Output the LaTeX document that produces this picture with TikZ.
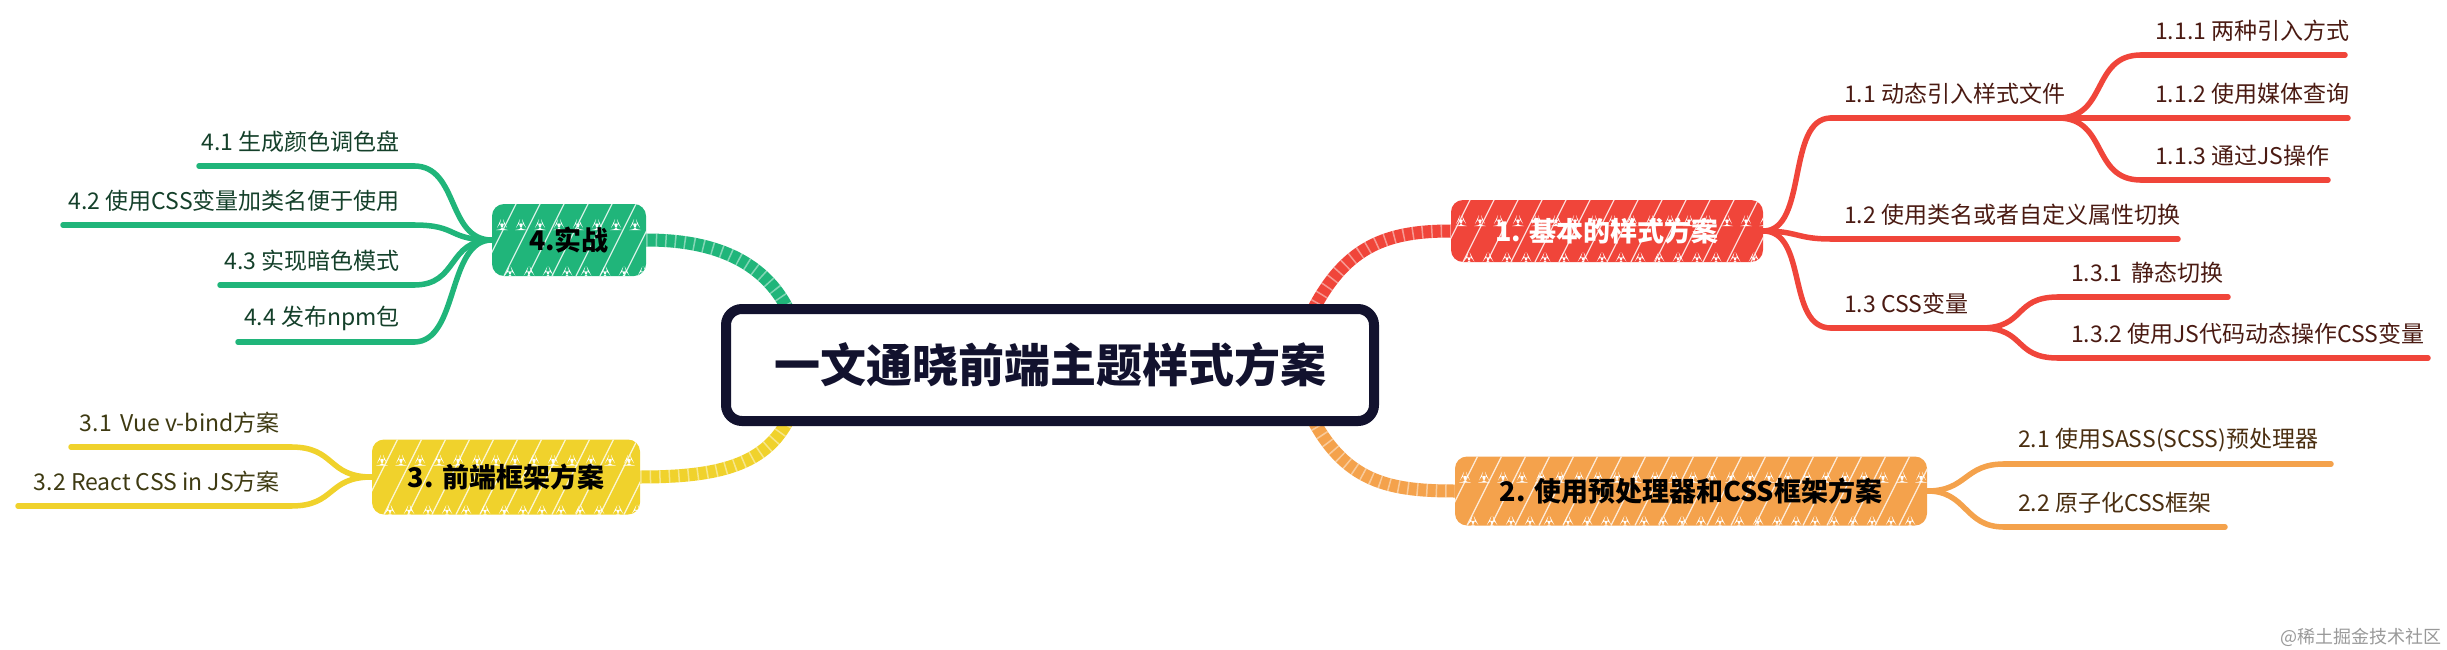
\documentclass[tikz,border=0pt]{standalone}
\usepackage{fontspec}
\setmainfont{Noto Sans CJK SC}
\usetikzlibrary{backgrounds}
\definecolor{cg}{HTML}{20B57A}
\definecolor{cr}{HTML}{F0453A}
\definecolor{co}{HTML}{F4A24C}
\definecolor{cy}{HTML}{F0D22C}
\definecolor{cn}{HTML}{12122E}
\definecolor{tr}{HTML}{4A1A12}
\definecolor{to}{HTML}{4A2E10}
\definecolor{ty}{HTML}{3E3A12}
\definecolor{tg}{HTML}{14402A}
\tikzset{
  hatch/.style={path picture={
    \foreach \k in {0,...,26}{
      \draw[white,line width=1.2pt,opacity=0.8] ([xshift=\k*24pt-60pt]path picture bounding box.south west) -- ++(40pt,80pt);
      \fill[white] ([xshift=\k*19pt+4pt,yshift=-26pt]path picture bounding box.north west) -- ++(6pt,13pt) -- ++(6pt,-13pt) -- cycle;
      \fill[white] ([xshift=\k*19pt+12pt,yshift=-1pt]path picture bounding box.south west) -- ++(6pt,12pt) -- ++(6pt,-12pt) -- cycle;
    }
  }},
  mainnode/.style={rounded corners=12pt, inner sep=0pt, hatch, font=\fontsize{27}{30}\selectfont\bfseries, text=black},
  leaf/.style={font=\fontsize{23}{26}\selectfont, inner sep=0pt},
  bline/.style={line width=5.5pt, line cap=round},
  conn/.style={line width=13pt, line cap=round},
  tick/.style={white, line width=13pt, dash pattern=on 1.5pt off 8pt, opacity=0.45},
}
\begin{document}
\begin{tikzpicture}[x=1pt,y=-1pt]
\useasboundingbox (0,0) rectangle (2447,650);

% central
\node[draw=cn, line width=10pt, rounded corners=16pt, fill=white, minimum width=648pt, minimum height=112pt, inner sep=0pt,
      font=\fontsize{46}{50}\selectfont\bfseries, text=cn] (ctr) at (1050,365) {一文通晓前端主题样式方案};

% main nodes
\node[mainnode, fill=cr, text=white, minimum width=312pt, minimum height=62pt] (r) at (1607,231) {1. 基本的样式方案};
\node[mainnode, fill=co, minimum width=472pt, minimum height=69pt] (o) at (1691,491) {2. 使用预处理器和CSS框架方案};
\node[mainnode, fill=cy, minimum width=268pt, minimum height=75pt] (y) at (506,477) {3. 前端框架方案};
\node[mainnode, fill=cg, minimum width=154pt, minimum height=72pt] (g) at (569,240) {4.实战};

% main connectors
\begin{scope}[on background layer]
  \draw[conn, cr] ([xshift=-75pt,yshift=-25pt]ctr.north east) .. controls +(35,-80) and +(-70,0) .. (r.west);
  \draw[tick] ([xshift=-75pt,yshift=-25pt]ctr.north east) .. controls +(35,-80) and +(-70,0) .. (r.west);
  \draw[conn, co] ([xshift=-75pt,yshift=25pt]ctr.south east) .. controls +(35,80) and +(-70,0) .. (o.west);
  \draw[tick] ([xshift=-75pt,yshift=25pt]ctr.south east) .. controls +(35,80) and +(-70,0) .. (o.west);
  \draw[conn, cg] (g.east) .. controls +(80,0) and +(-20,-60) .. ([xshift=75pt,yshift=-25pt]ctr.north west);
  \draw[tick] (g.east) .. controls +(80,0) and +(-20,-60) .. ([xshift=75pt,yshift=-25pt]ctr.north west);
  \draw[conn, cy] (y.east) .. controls +(90,0) and +(-20,60) .. ([xshift=75pt,yshift=25pt]ctr.south west);
  \draw[tick] (y.east) .. controls +(90,0) and +(-20,60) .. ([xshift=75pt,yshift=25pt]ctr.south west);
\end{scope}

% ---------- red branch ----------
\begin{scope}[text=tr]
\node[leaf, anchor=west] (t11) at (1844,94) {1.1 动态引入样式文件};
\node[leaf, anchor=west] (t111) at (2155,31) {1.1.1 两种引入方式};
\node[leaf, anchor=west] (t112) at (2155,94) {1.1.2 使用媒体查询};
\node[leaf, anchor=west] (t113) at (2155,156) {1.1.3 通过JS操作};
\node[leaf, anchor=west] (t12) at (1844,215) {1.2 使用类名或者自定义属性切换};
\node[leaf, anchor=west] (t13) at (1844,304) {1.3 CSS变量};
\node[leaf, anchor=west] (t131) at (2071,273) {1.3.1\, 静态切换};
\node[leaf, anchor=west] (t132) at (2071,334) {1.3.2 使用JS代码动态操作CSS变量};
\end{scope}
\coordinate (a11) at (1831,118); \coordinate (b11) at (2058,118);
\coordinate (a111) at (2141,55); \coordinate (b111) at (2345,55);
\coordinate (a112) at (2141,118); \coordinate (b112) at (2348,118);
\coordinate (a113) at (2141,180); \coordinate (b113) at (2328,180);
\coordinate (a12) at (1831,239); \coordinate (b12) at (2178,239);
\coordinate (a13) at (1831,328); \coordinate (b13) at (1981,328);
\coordinate (a131) at (2058,297); \coordinate (b131) at (2228,297);
\coordinate (a132) at (2058,358); \coordinate (b132) at (2428,358);
\begin{scope}[bline, draw=cr]
\draw (r.east) .. controls +(45,0) and +(-45,0) .. (a11);
\draw (r.east) .. controls +(35,0) and +(-35,0) .. (a12);
\draw (r.east) .. controls +(45,0) and +(-45,0) .. (a13);
\draw (b11) .. controls +(50,0) and +(-50,0) .. (a111);
\draw (b11) -- (a112);
\draw (b11) .. controls +(50,0) and +(-50,0) .. (a113);
\draw (b13) .. controls +(45,0) and +(-45,0) .. (a131);
\draw (b13) .. controls +(45,0) and +(-45,0) .. (a132);
\draw (a11) -- (b11); \draw (a111) -- (b111); \draw (a112) -- (b112); \draw (a113) -- (b113);
\draw (a12) -- (b12); \draw (a13) -- (b13); \draw (a131) -- (b131); \draw (a132) -- (b132);
\end{scope}

% ---------- orange branch ----------
\begin{scope}[text=to]
\node[leaf, anchor=west] (t21) at (2018,440) {2.1 使用SASS(SCSS)预处理器};
\node[leaf, anchor=west] (t22) at (2018,503) {2.2 原子化CSS框架};
\end{scope}
\coordinate (a21) at (2004,464); \coordinate (b21) at (2331,464);
\coordinate (a22) at (2004,527); \coordinate (b22) at (2225,527);
\begin{scope}[bline, draw=co]
\draw (o.east) .. controls +(40,0) and +(-40,0) .. (a21);
\draw (o.east) .. controls +(40,0) and +(-40,0) .. (a22);
\draw (a21) -- (b21); \draw (a22) -- (b22);
\end{scope}

% ---------- yellow branch ----------
\begin{scope}[text=ty]
\node[leaf, anchor=east] (t31) at (280,423) {3.1\, Vue v-bind方案};
\node[leaf, anchor=east] (t32) at (280,482) {3.2 React CSS in JS方案};
\end{scope}
\coordinate (a31) at (291,447); \coordinate (b31) at (71,447);
\coordinate (a32) at (291,506); \coordinate (b32) at (18,506);
\begin{scope}[bline, draw=cy]
\draw (y.west) .. controls +(-45,0) and +(45,0) .. (a31);
\draw (y.west) .. controls +(-45,0) and +(45,0) .. (a32);
\draw (a31) -- (b31); \draw (a32) -- (b32);
\end{scope}

% ---------- green branch ----------
\begin{scope}[text=tg]
\node[leaf, anchor=east] (t41) at (400,142) {4.1 生成颜色调色盘};
\node[leaf, anchor=east] (t42) at (400,201) {4.2 使用CSS变量加类名便于使用};
\node[leaf, anchor=east] (t43) at (400,261) {4.3 实现暗色模式};
\node[leaf, anchor=east] (t44) at (400,318) {4.4 发布npm包};
\end{scope}
\coordinate (a41) at (414,166); \coordinate (b41) at (199,166);
\coordinate (a42) at (414,225); \coordinate (b42) at (63,225);
\coordinate (a43) at (414,285); \coordinate (b43) at (220,285);
\coordinate (a44) at (414,342); \coordinate (b44) at (238,342);
\begin{scope}[bline, draw=cg]
\draw (g.west) .. controls +(-45,0) and +(45,0) .. (a41);
\draw (g.west) .. controls +(-45,0) and +(45,0) .. (a42);
\draw (g.west) .. controls +(-45,0) and +(45,0) .. (a43);
\draw (g.west) .. controls +(-45,0) and +(45,0) .. (a44);
\draw (a41) -- (b41); \draw (a42) -- (b42); \draw (a43) -- (b43); \draw (a44) -- (b44);
\end{scope}

% watermark
\node[anchor=east, font=\fontsize{18}{20}\selectfont, text=black!40, inner sep=0pt] (wm) at (2442,637) {@稀土掘金技术社区};
\end{tikzpicture}
\end{document}
